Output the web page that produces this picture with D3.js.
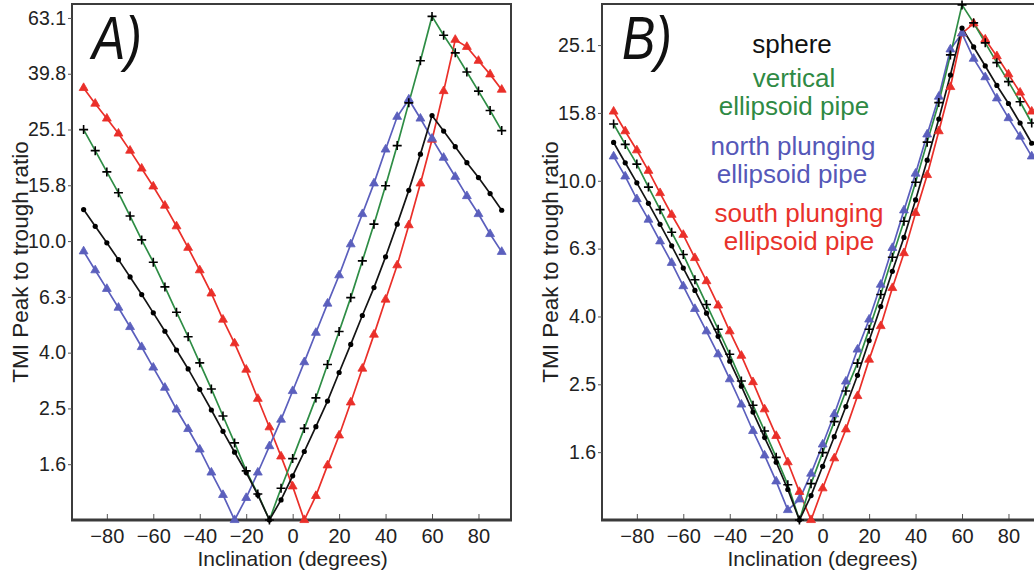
<!DOCTYPE html>
<html>
<head>
<meta charset="utf-8">
<script src="https://cdn.jsdelivr.net/npm/d3@7/dist/d3.min.js"></script>
<style>
  body { margin: 0; background: #fff; }
  text { font-family: "Liberation Sans", Arial, Helvetica, sans-serif; }
</style>
</head>
<body>
<div id="chart"></div>
<script>
'use strict';

// inclination steps (degrees), one marker every 5 degrees
const inclination = [-90, -85, -80, -75, -70, -65, -60, -55, -50, -45, -40, -35, -30, -25, -20, -15, -10, -5,
  0, 5, 10, 15, 20, 25, 30, 35, 40, 45, 50, 55, 60, 65, 70, 75, 80, 85, 90];

// sphere is the same model in both panels
const sphere = [12.97, 11.3, 9.86, 8.58, 7.44, 6.43, 5.53, 4.75, 4.07, 3.48, 2.94, 2.48, 2.08, 1.75, 1.48, 1.23, 1.0,
  1.18, 1.44, 1.76, 2.16, 2.67, 3.38, 4.26, 5.41, 6.81, 8.78, 11.5, 15.2, 20.5, 28.2,
  24.8, 21.8, 19.1, 16.9, 14.8, 12.9];

// panel A
const verticalA = [25.1, 21.1, 17.7, 14.9, 12.3, 10.1, 8.40, 6.85, 5.56, 4.54, 3.66, 2.95, 2.36, 1.89, 1.50, 1.24, 1.0,
  1.30, 1.66, 2.13, 2.74, 3.61, 4.74, 6.27, 8.49, 11.5, 15.8, 22.0, 31.3, 44.3, 63.9,
  54.7, 47.3, 40.4, 34.5, 29.4, 24.9];
const northA = [9.19, 7.86, 6.74, 5.77, 4.92, 4.17, 3.52, 2.98, 2.49, 2.12, 1.79, 1.48, 1.23, 1.0,
  1.20, 1.48, 1.84, 2.29, 2.90, 3.68, 4.69, 5.97, 7.54, 9.74, 12.5, 16.1, 21.3, 27.9, 32.2,
  27.5, 23.3, 19.9, 17.0, 14.5, 12.5, 10.6, 9.15];
const southA = [35.4, 31.1, 27.5, 24.3, 21.1, 18.2, 15.7, 13.4, 11.3, 9.46, 7.86, 6.49, 5.23, 4.30, 3.46, 2.72, 2.15, 1.69, 1.32, 1.0,
  1.22, 1.57, 2.01, 2.64, 3.49, 4.62, 6.17, 8.19, 11.4, 16.1, 23.1, 34.5, 52.7,
  49.7, 44.3, 39.6, 34.9];

// panel B
const verticalB = [14.7, 12.8, 11.2, 9.58, 8.22, 7.05, 6.06, 5.11, 4.32, 3.65, 3.08, 2.57, 2.18, 1.83, 1.53, 1.27, 1.0,
  1.28, 1.58, 1.95, 2.40, 2.90, 3.65, 4.62, 5.95, 7.6, 9.9, 13.0, 17.0, 23.5, 33.0,
  29.2, 25.5, 22.3, 19.6, 17.1, 14.8];
const northB = [11.8, 10.3, 8.83, 7.68, 6.63, 5.73, 4.89, 4.19, 3.60, 3.08, 2.60, 2.19, 1.83, 1.55, 1.30, 1.07,
  1.15, 1.37, 1.67, 2.05, 2.56, 3.18, 3.90, 4.94, 6.34, 8.18, 10.5, 13.7, 17.7, 24.4, 27.2,
  22.9, 20.2, 17.5, 15.3, 13.5, 11.8];
const southB = [16.0, 14.0, 12.3, 10.7, 9.20, 7.94, 6.93, 5.92, 5.06, 4.29, 3.60, 3.05, 2.55, 2.12, 1.77, 1.48, 1.21, 1.0,
  1.24, 1.52, 1.85, 2.32, 2.97, 3.73, 4.83, 6.12, 8.04, 10.4, 14.0, 18.9, 27.2, 29.1,
  26.1, 23.3, 20.6, 18.2, 16.0];

// axis ticks
const xTicks = [-80, -60, -40, -20, 0, 20, 40, 60, 80];
const yTickValues = [1.585, 2.512, 3.981, 6.310, 10.0, 15.85, 25.12, 39.81, 63.10];
const yTickLabels = ['1.6', '2.5', '4.0', '6.3', '10.0', '15.8', '25.1', '39.8', '63.1'];

// legend (panel B)
const legendLines = ['sphere', 'vertical', 'ellipsoid pipe', 'north plunging', 'ellipsoid pipe', 'south plunging', 'ellipsoid pipe'];
const legendKinds = ['sphere', 'vertical', 'vertical', 'north', 'north', 'south', 'south'];

const colors = {sphere: '#141414', vertical: '#2e8d45', north: '#5b5fbd', south: '#ea2f29'};
const legendColors = {sphere: '#111', vertical: '#2f8a44', north: '#5558b8', south: '#e8322b'};

const svg = d3.select('#chart').append('svg')
    .attr('width', 1034)
    .attr('height', 572);

function drawPanel(p) {
  const x = d3.scaleLinear().domain([-95, 94]).range([p.left, p.left + 439]);
  const y = d3.scaleLog().domain([1, p.yMax]).range([520, 4]);

  const g = svg.append('g');

  // frame
  g.append('path')
      .attr('d', `M${p.left},520V4H${p.left + 439}V520`)
      .attr('fill', 'none')
      .attr('stroke', '#3c3c3c')
      .attr('stroke-width', 2);

  // y axis
  const nTicks = yTickValues.filter(v => v < p.yMax).length;
  const yAxis = g.append('g')
      .attr('transform', `translate(${p.left},0)`)
      .call(d3.axisLeft(y)
          .tickValues(yTickValues.slice(0, nTicks))
          .tickFormat((d, i) => yTickLabels[i])
          .tickSize(4)
          .tickPadding(2));
  yAxis.select('.domain').remove();
  yAxis.selectAll('line').attr('stroke', '#555');
  yAxis.selectAll('text').attr('font-size', 19.5).attr('fill', '#222')
      .attr('font-family', '"Liberation Sans", Arial, sans-serif');

  // x axis, ticks point inward
  const xAxis = g.append('g')
      .attr('transform', 'translate(0,520)')
      .call(d3.axisBottom(x)
          .tickValues(xTicks)
          .tickSize(-6)
          .tickPadding(9));
  xAxis.select('.domain').remove();
  xAxis.selectAll('line').attr('stroke', '#555');
  xAxis.selectAll('text').attr('font-size', 20).attr('fill', '#222')
      .attr('font-family', '"Liberation Sans", Arial, sans-serif');

  g.append('line')
      .attr('x1', p.left - 1).attr('x2', p.left + 440)
      .attr('y1', 520).attr('y2', 520)
      .attr('stroke', '#3a3a3a')
      .attr('stroke-width', 3);

  // axis titles
  g.append('text')
      .attr('x', x(0))
      .attr('y', 566)
      .attr('text-anchor', 'middle')
      .attr('font-size', 21)
      .attr('fill', '#222')
      .text('Inclination (degrees)');

  g.append('text')
      .attr('transform', `translate(${p.left - 44},262) rotate(-90)`)
      .attr('text-anchor', 'middle')
      .attr('font-size', 22.5)
      .attr('fill', '#222')
      .text('TMI Peak to trough ratio');

  // panel letter
  g.append('text')
      .attr('transform', `translate(${p.left + 20},59) scale(1,1.22)`)
      .attr('font-size', 50)
      .attr('font-style', 'italic')
      .attr('fill', '#111')
      .text(p.letter);

  const line = d3.line()
      .x((d, i) => x(inclination[i]))
      .y(d => y(d));

  p.series.forEach(s => {
    g.append('path')
        .datum(s.values)
        .attr('d', line)
        .attr('fill', 'none')
        .attr('stroke', colors[s.kind])
        .attr('stroke-width', 1.7);
  });

  // markers on top of the lines
  p.series.forEach(s => {
    const pts = g.append('g').selectAll('.m')
        .data(s.values)
        .enter().append('g')
        .attr('transform', (d, i) => `translate(${x(inclination[i])},${y(d)})`);
    if (s.kind === 'sphere') {
      pts.append('circle').attr('r', 2.6).attr('fill', '#000');
    } else if (s.kind === 'vertical') {
      pts.append('path').attr('d', 'M-4.5,0H4.5M0,-4.5V4.5')
          .attr('stroke', '#000').attr('stroke-width', 1.6);
    } else {
      pts.append('path')
          .attr('d', d3.symbol(d3.symbolTriangle).size(34)())
          .attr('fill', colors[s.kind])
          .attr('stroke', colors[s.kind])
          .attr('stroke-width', 0.8);
    }
  });

  return g;
}

drawPanel({
  left: 72, yMax: 70.8, letter: 'A)',
  series: [
    {kind: 'south', values: southA},
    {kind: 'north', values: northA},
    {kind: 'vertical', values: verticalA},
    {kind: 'sphere', values: sphere}
  ]
});

const gB = drawPanel({
  left: 602, yMax: 33.2, letter: 'B)',
  series: [
    {kind: 'south', values: southB},
    {kind: 'north', values: northB},
    {kind: 'vertical', values: verticalB},
    {kind: 'sphere', values: sphere}
  ]
});

// legend text in panel B
const legendX = [792, 794, 794, 793, 792, 799, 799];
const legendY = [53, 87, 115, 155, 183, 222, 250];
gB.selectAll('.legend')
    .data(legendLines)
    .enter().append('text')
    .attr('class', 'legend')
    .attr('x', (d, i) => legendX[i])
    .attr('y', (d, i) => legendY[i])
    .attr('text-anchor', 'middle')
    .attr('font-size', 26)
    .attr('fill', (d, i) => legendColors[legendKinds[i]])
    .text(d => d);
</script>
</body>
</html>
